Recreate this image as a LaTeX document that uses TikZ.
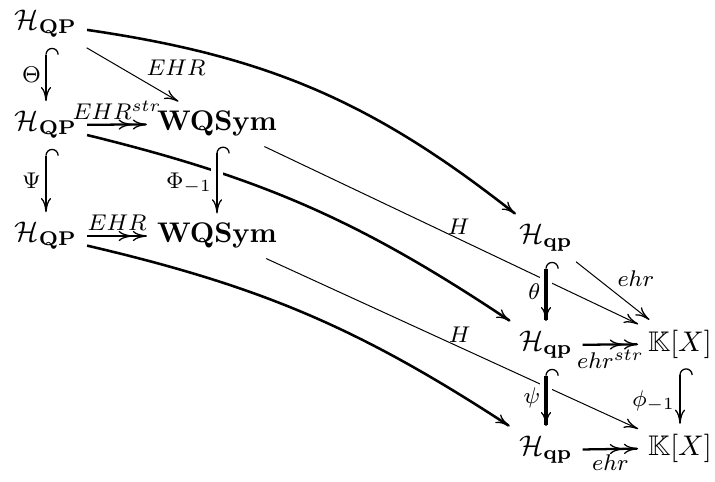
\documentclass[tikz,border=0pt]{standalone}
\usepackage{amsmath}
\usepackage{amssymb}
\usepackage{bm}
\usetikzlibrary{arrows.meta}

\begin{document}
\begin{tikzpicture}[x = 0.3522pt, y = -0.3522pt,
	>={Computer Modern Rightarrow[length=5pt, width=3.6pt, line width=0.45pt]},
	lbl/.style = {font=\footnotesize, inner sep=1.5pt},
	thinar/.style = {->, line width=0.35pt},
	curvar/.style = {->, line width=0.9pt},
	incl/.style = {{Hooks[right, length=2.4pt, width=9pt, line width=0.45pt]}->, line width=0.6pt},
	inclthick/.style = {incl, line width=1.1pt},
	surj/.style = {->>, line width=0.8pt},
	over/.style = {preaction={draw, white, -, line width=4.5pt}}]
	\useasboundingbox (0,0) rectangle (715,481);
	
	% objects
	\node (QP1) at (46,24) {$\mathcal{H}_{\mathbf{QP}}$};
	\node (QP2) at (46,125) {$\mathcal{H}_{\mathbf{QP}}$};
	\node (QP3) at (46,236) {$\mathcal{H}_{\mathbf{QP}}$};
	\node (WQ2) at (217,124) {$\mathbf{WQSym}$};
	\node (WQ3) at (217,236) {$\mathbf{WQSym}$};
	
	\node (qp1) at (546,238) {$\mathcal{H}_{\mathbf{qp}}$};
	\node (qp2) at (546,345) {$\mathcal{H}_{\mathbf{qp}}$};
	\node (qp3) at (546,450) {$\mathcal{H}_{\mathbf{qp}}$};
	\node (KX2) at (680,344) {$\mathbb{K}[X]$};
	\node (KX3) at (680,448) {$\mathbb{K}[X]$};
	
	% long maps
	\draw[curvar] (QP1) to[bend left=15] (qp1);
	\draw[curvar] (QP2) to[bend left=10] (qp2);
	\draw[curvar] (QP3) to[bend left=10] (qp3);
	
	\draw[thinar] (WQ2) -- node[lbl, pos=0.52, above] {$H$} (KX2);
	\draw[thinar] (WQ3) -- node[lbl, pos=0.52, above] {$H$} (KX3);
	
	% left square
	\draw[thinar] (QP1) -- node[lbl, pos=0.6, above right] {$EHR$} (WQ2);
	\draw[surj] (QP2) -- node[lbl, above] {$EHR^{str}$} (WQ2);
	\draw[surj] (QP3) -- node[lbl, above] {$EHR$} (WQ3);
	
	\draw[incl, over] (QP1) -- node[lbl, left] {$\Theta$} (QP2);
	\draw[incl, over] (QP2) -- node[lbl, left] {$\Psi$} (QP3);
	\draw[incl, over] (WQ2) -- node[lbl, left, pos=0.55] {$\Phi_{-1}$} (WQ3);
	
	% right square
	\draw[thinar] (qp1) -- node[lbl, pos=0.5, above right] {$ehr$} (KX2);
	\draw[surj] (qp2) -- node[lbl, below] {$ehr^{str}$} (KX2);
	\draw[surj] (qp3) -- node[lbl, below] {$ehr$} (KX3);
	
	\draw[inclthick, over] (qp1) -- node[lbl, left] {$\theta$} (qp2);
	\draw[inclthick, over] (qp2) -- node[lbl, left] {$\psi$} (qp3);
	\draw[incl, over] (KX2) -- node[lbl, left, pos=0.6] {$\phi_{-1}$} (KX3);
	
\end{tikzpicture}
\end{document}
